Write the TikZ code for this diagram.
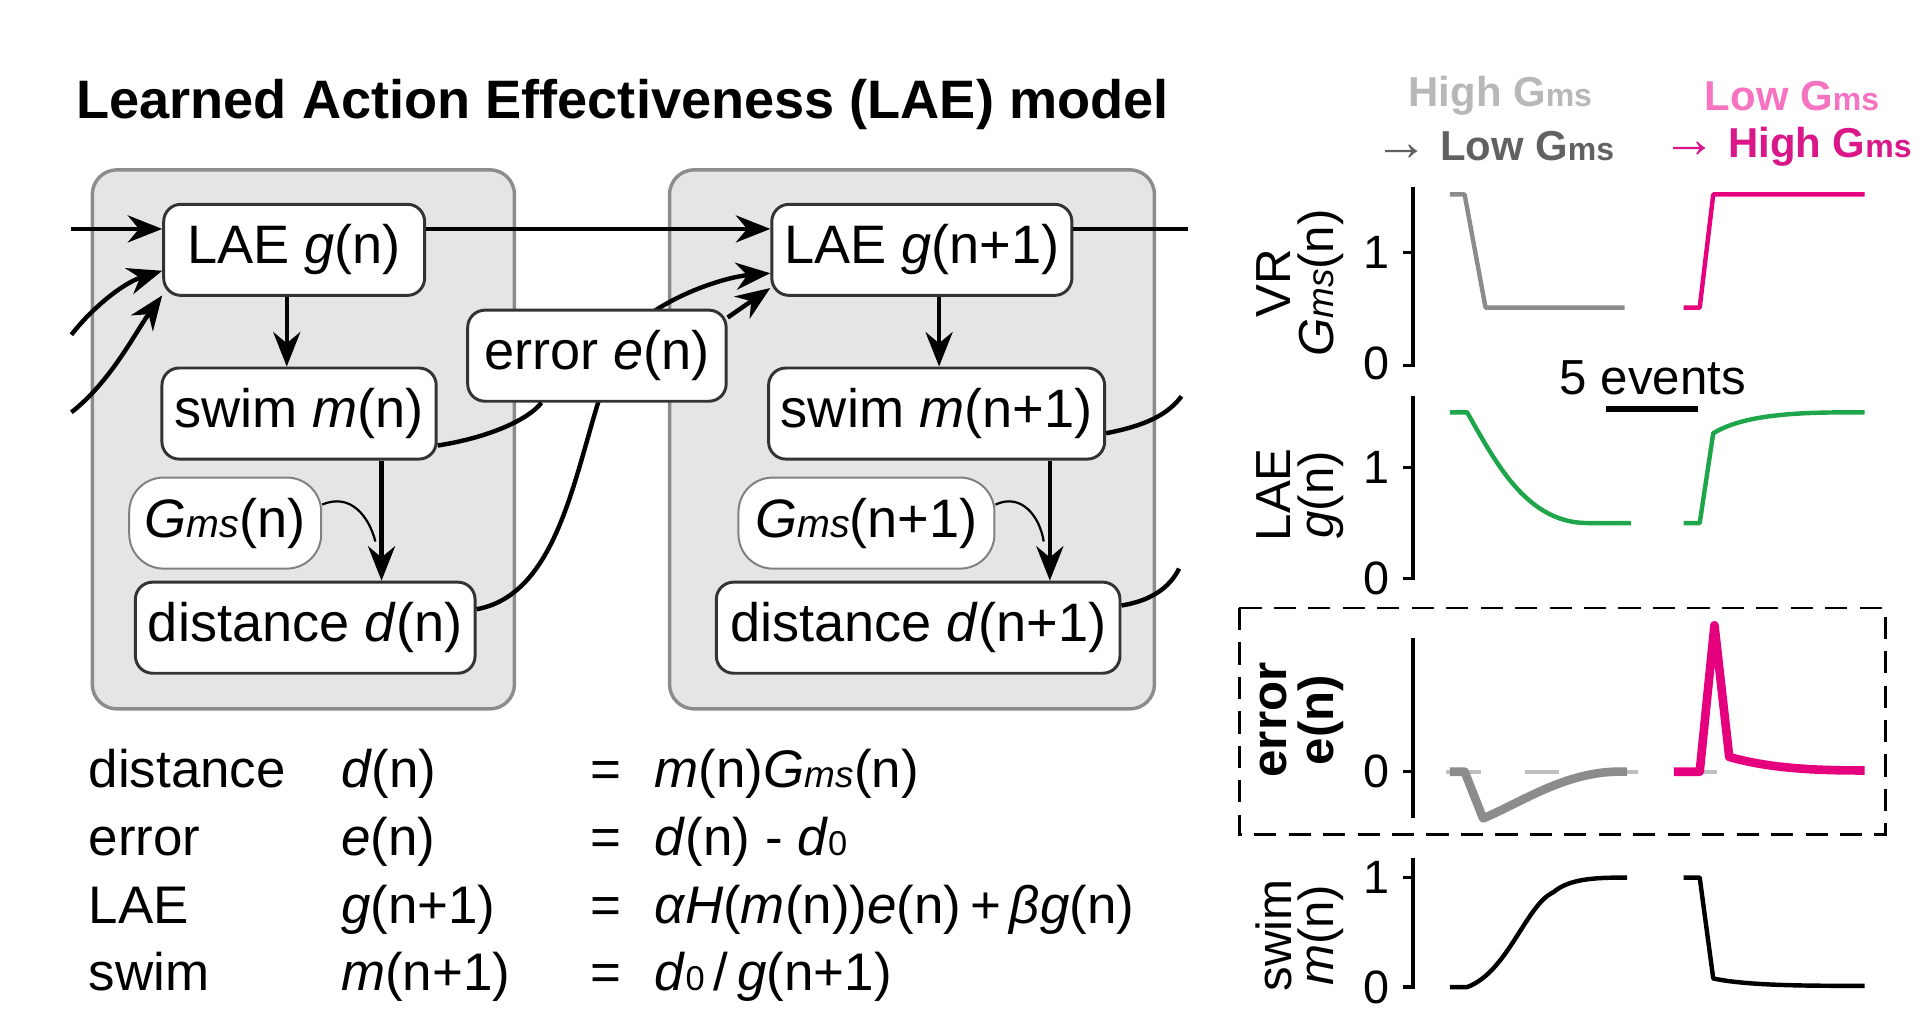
\documentclass[tikz,border=0pt]{standalone}
\usepackage{fontspec}
\setmainfont{Liberation Sans}
\usetikzlibrary{arrows.meta}
\newcommand\Gmsi[1]{\textit{G}{\fontsize{#1}{#1}\selectfont\textit{ms}}}
\newcommand\Gmsu[1]{G{\fontsize{#1}{#1}\selectfont ms}}
\newcommand\dzero{\textit{d}{\fontsize{14}{14}\selectfont 0}}
\newcommand\harr{{\fontsize{22}{22}\selectfont →}}
\begin{document}
\begin{tikzpicture}[x=0.5pt,y=-0.5pt,
  blk/.style={draw=black!80,line width=1.2pt,rounded corners=7pt,fill=white,minimum height=37pt,inner xsep=5pt,font=\fontsize{22}{24}\selectfont},
  gblk/.style={blk,draw=black!50,line width=0.8pt,rounded corners=14pt},
  panel/.style={draw=black!45,line width=1.4pt,fill=black!10,rounded corners=10pt},
  con/.style={line width=1.8pt,-{Stealth[length=14pt,width=11pt]}},
  ln/.style={line width=1.8pt},
  eq/.style={anchor=base west,font=\fontsize{21.5}{24}\selectfont},
  ax/.style={line width=1.3pt},
  tk/.style={anchor=east,font=\fontsize{19}{20}\selectfont},
  yl/.style={rotate=90,font=\fontsize{20}{22}\selectfont},
  tr/.style={line width=1.8pt,line join=round}]
\useasboundingbox (0,0) rectangle (1560,829);
\node[anchor=base west,font=\bfseries\fontsize{22}{24}\selectfont] (title) at (55,96) {Learned Action Effectiveness (LAE) model};
% panels
\draw[panel] (75,138) rectangle (418,576);
\draw[panel] (544,138) rectangle (938,576);
% nodes
\node[blk,minimum width=106pt] (g0) at (239,203) {LAE \textit{g}(n)};
\node[blk,minimum width=110pt] (m0) at (243,336) {swim \textit{m}(n)};
\node[gblk,minimum width=78pt] (G0) at (183,425) {\Gmsi{16}(n)};
\node[blk,minimum width=138pt] (d0) at (248,510) {distance \textit{d}(n)};
\node[blk,minimum width=121pt] (g1) at (749,203) {LAE \textit{g}(n+1)};
\node[blk,minimum width=135pt] (m1) at (761,336) {swim \textit{m}(n+1)};
\node[gblk,minimum width=104pt] (G1) at (704,425) {\Gmsi{16}(n+1)};
\node[blk,minimum width=164pt] (d1) at (746,510) {distance \textit{d}(n+1)};
\coordinate (inA) at (58,186);
\coordinate (inB) at (58,272);
\coordinate (inC) at (58,335);
\coordinate (outA) at (965,186);
\coordinate (outB) at (960,322);
\coordinate (outC) at (958,462);
% d(n) -> g(n+1) behind error
\draw[con] (d0.east|-0,495) .. controls (470,480) and (470,330) .. (510,270) .. controls (540,240) and (590,225) .. (g1.west|-0,222);
\node[blk,minimum width=105pt] (e0) at (485,289) {error \textit{e}(n)};
\draw[con] (inA) -- (g0.west|-0,186);
\draw[con] (g0.east|-0,186) -- (g1.west|-0,186);
\draw[ln] (g1.east|-0,186) -- (outA);
\draw[con] (inB) .. controls (75,250) and (100,230) .. (g0.south west|-0,220);
\draw[con] (inC) .. controls (90,310) and (110,270) .. (g0.south west|-0,240);
\draw[con] (g0.south-|233,0) -- (m0.north-|233,0);
\draw[con] (m0.south-|310,0) -- (d0.north-|310,0);
\draw[line width=0.9pt] (G0.east|-0,410) .. controls (285,400) and (300,420) .. (305,440);
\draw[line width=0.9pt] (G1.east|-0,410) .. controls (830,400) and (845,420) .. (848,440);
\draw[con] (m1.south-|853,0) -- (d1.north-|853,0);
\draw[con] (g1.south-|763,0) -- (m1.north-|763,0);
\draw[ln] (m0.east|-0,362) .. controls (400,355) and (430,340) .. (e0.south-|440,0);
\draw[con] (e0.north east|-0,258) -- (g1.south west|-0,234);
\draw[ln] (m1.east|-0,352) .. controls (935,345) and (950,335) .. (outB);
\draw[ln] (d1.east|-0,492) .. controls (935,488) and (950,478) .. (outC);
% equations
\foreach \y/\a/\b/\c in {640/distance/{\textit{d}(n)}/{\textit{m}(n)\Gmsi{15}(n)},
  695/error/{\textit{e}(n)}/{\textit{d}(n) - \dzero},
  750/LAE/{\textit{g}(n+1)}/{\textit{αH}(\textit{m}(n))\textit{e}(n)\,+\,\textit{βg}(n)},
  805/swim/{\textit{m}(n+1)}/{\dzero\,/\,\textit{g}(n+1)}} {
  \node[eq] at (65,\y) {\a};
  \node[eq] at (270,\y) {\b};
  \node[eq] at (473,\y) {=};
  \node[eq] at (525,\y) {\c};
}
% right panel headers
\begin{scope}[font=\bfseries\fontsize{17}{19}\selectfont]
\node[text=black!28] (h1) at (1219,78) {High \Gmsu{13}};
\node[text=black!62] (h2) at (1214,119) {\harr\ Low \Gmsu{13}};
\node[text=magenta!55] (h3) at (1456,78) {Low \Gmsu{13}};
\node[text=magenta!90!black] (h4) at (1452,119) {\harr\ High \Gmsu{13}};
\end{scope}
\definecolor{pk}{HTML}{E5007E}
\definecolor{gr}{HTML}{1FA64A}
% plot 1
\draw[ax] (1148,152) -- (1148,297) -- (1140,297);
\draw[ax] (1140,205) -- (1148,205);
\node[tk] at (1136,205) {1}; \node[tk] at (1136,295) {0};
\node[yl] at (1035,230) {VR}; \node[yl] at (1073,230) {\Gmsi{15}(n)};
\draw[tr,black!45] (1178,158) -- (1190,158) -- (1207,250) -- (1320,250);
\draw[tr,pk] (1368,250) -- (1381,250) -- (1392,158) -- (1515,158);
\node[font=\fontsize{20}{22}\selectfont] (ev) at (1343,307) {5 events};
\draw[line width=2.5pt] (1305,332) -- (1380,332);
% plot 2
\draw[ax] (1148,322) -- (1148,470) -- (1140,470);
\draw[ax] (1140,380) -- (1148,380);
\node[tk] at (1136,380) {1}; \node[tk] at (1136,470) {0};
\node[yl] at (1035,402) {LAE}; \node[yl] at (1073,402) {\textit{g}(n)};
\draw[tr,gr] (1178,335) -- (1192,335) .. controls (1215,375) and (1240,425) .. (1290,425) -- (1325,425);
\draw[tr,gr] (1368,425) -- (1381,425) -- (1392,352) .. controls (1420,335) and (1470,335) .. (1515,335);
% plot 3
\draw[dashed,line width=1pt,dash pattern=on 9pt off 5pt] (1007,494) rectangle (1532,678);
\draw[black!25,line width=1.5pt,dash pattern=on 14pt off 18pt] (1175,627) -- (1430,627);
\draw[ax] (1148,518) -- (1148,665);
\draw[ax] (1140,627) -- (1148,627);
\node[tk] at (1136,627) {0};
\node[yl,font=\bfseries\fontsize{20}{22}\selectfont] at (1035,585) {error};
\node[yl,font=\bfseries\fontsize{20}{22}\selectfont] at (1073,585) {e(n)};
\draw[tr,line width=3.5pt,black!45] (1178,627) -- (1190,627) -- (1205,665) .. controls (1240,650) and (1275,625) .. (1322,627);
\draw[tr,line width=3.5pt,pk] (1360,627) -- (1381,627) -- (1393,508) -- (1405,615) .. controls (1440,625) and (1480,626) .. (1515,626);
% plot 4
\draw[ax] (1148,697) -- (1148,802) -- (1140,802);
\draw[ax] (1140,713) -- (1148,713);
\node[tk] at (1136,713) {1}; \node[tk] at (1136,802) {0};
\node[yl] at (1035,760) {swim}; \node[yl] at (1073,760) {\textit{m}(n)};
\draw[tr] (1178,802) -- (1192,802) .. controls (1225,790) and (1240,735) .. (1262,725) .. controls (1275,714) and (1295,713) .. (1322,713);
\draw[tr] (1368,713) -- (1381,713) -- (1392,795) .. controls (1420,801) and (1470,801) .. (1515,801);
\end{tikzpicture}
\end{document}
